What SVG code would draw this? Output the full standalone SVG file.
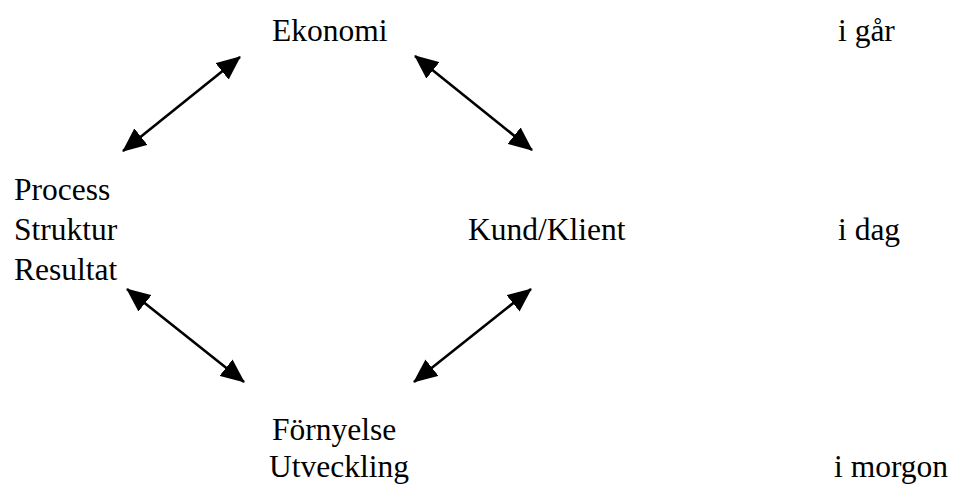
<svg xmlns="http://www.w3.org/2000/svg" width="956" height="484" viewBox="0 0 956 484">
  <style>
    text { font-family: 'Liberation Serif', 'Times New Roman', Times, serif; font-size: 31.5px; fill: #000; }
    .link { stroke: #000; stroke-width: 2.6; fill: none; marker-start: url(#head); marker-end: url(#head); }
  </style>
  <defs>
    <marker id="head" viewBox="0 0 24 21" refX="23" refY="10.5" markerWidth="24" markerHeight="21" markerUnits="userSpaceOnUse" orient="auto-start-reverse">
      <path d="M0,0 L24,10.5 L0,21 z" fill="#000"/>
    </marker>
  </defs>
  <rect width="956" height="484" fill="#fff"/>

  <g id="ekonomi"><text x="272" y="41" font-family="Liberation Serif">Ekonomi</text></g>
  <g id="process"><text x="14" y="200">Process</text><text x="14" y="240">Struktur</text><text x="14" y="280">Resultat</text></g>
  <g id="kund"><text x="468" y="240">Kund/Klient</text></g>
  <g id="fornyelse"><text x="272" y="440">Förnyelse</text><text x="269" y="477">Utveckling</text></g>
  <g id="tider"><text x="838" y="41">i går</text><text x="838" y="240">i dag</text><text x="834" y="477">i morgon</text></g>

  <g id="connectors">
    <line class="link" x1="123" y1="151" x2="240" y2="57"/>
    <line class="link" x1="415" y1="56" x2="532" y2="150"/>
    <line class="link" x1="127" y1="289" x2="244" y2="382"/>
    <line class="link" x1="531" y1="289" x2="414" y2="382"/>
  </g>
</svg>
